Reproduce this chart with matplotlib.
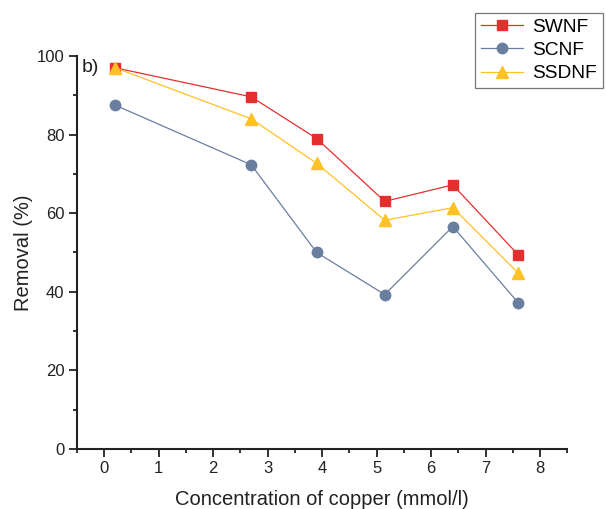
import matplotlib
matplotlib.use("Agg")
import matplotlib.pyplot as plt
from matplotlib.ticker import MultipleLocator

plt.rcParams['font.family'] = ['Liberation Sans', 'DejaVu Sans']

conc = [0.2, 2.7, 3.9, 5.15, 6.4, 7.6]
swnf = [97.0, 89.6, 79.0, 63.0, 67.2, 49.4]
scnf = [87.5, 72.3, 50.0, 39.3, 56.6, 37.2]
ssdnf = [97.0, 84.0, 72.7, 58.2, 61.4, 44.8]

fig = plt.figure(figsize=(6.06, 5.09), dpi=100)
ax = fig.add_axes([0.127, 0.118, 0.809, 0.772])

ax.plot(conc, swnf, color='#E3302F', lw=0.9, marker='s', ms=7, label='SWNF', zorder=3)
ax.plot(conc, scnf, color='#6A7FA0', lw=0.9, marker='o', ms=7.5, label='SCNF', zorder=3)
ax.plot(conc, ssdnf, color='#FFC125', lw=0.9, marker='^', ms=8.5, label='SSDNF', zorder=4)

ax.set_xlim(-0.5, 8.5)
ax.set_ylim(0, 100)
ax.xaxis.set_major_locator(MultipleLocator(1))
ax.xaxis.set_minor_locator(MultipleLocator(0.5))
ax.yaxis.set_major_locator(MultipleLocator(20))
ax.yaxis.set_minor_locator(MultipleLocator(10))
ax.tick_params(which='both', direction='out', width=1.3, labelsize=12, colors='#222222')
ax.tick_params(which='major', length=5.5)
ax.tick_params(which='minor', length=3)
for s in ['top', 'right']:
    ax.spines[s].set_visible(False)
for s in ['left', 'bottom']:
    ax.spines[s].set_linewidth(1.5)
    ax.spines[s].set_color('#222222')

ax.set_xlabel('Concentration of copper (mmol/l)', fontsize=14.5, color='#222222', labelpad=10)
ax.set_ylabel('Removal (%)', fontsize=14.5, color='#222222', labelpad=3)
ax.text(-0.42, 97, 'b)', fontsize=14, color='#222222', va='center', ha='left')

leg = fig.legend(loc='upper right', bbox_to_anchor=(0.995, 0.975), fontsize=13.8,
                 frameon=True, fancybox=False, edgecolor='#555555', handlelength=2.2,
                 borderpad=0.3, labelspacing=0.3, handletextpad=0.5, borderaxespad=0)
leg.get_frame().set_linewidth(0.9)

fig.savefig('out.png', dpi=100)
